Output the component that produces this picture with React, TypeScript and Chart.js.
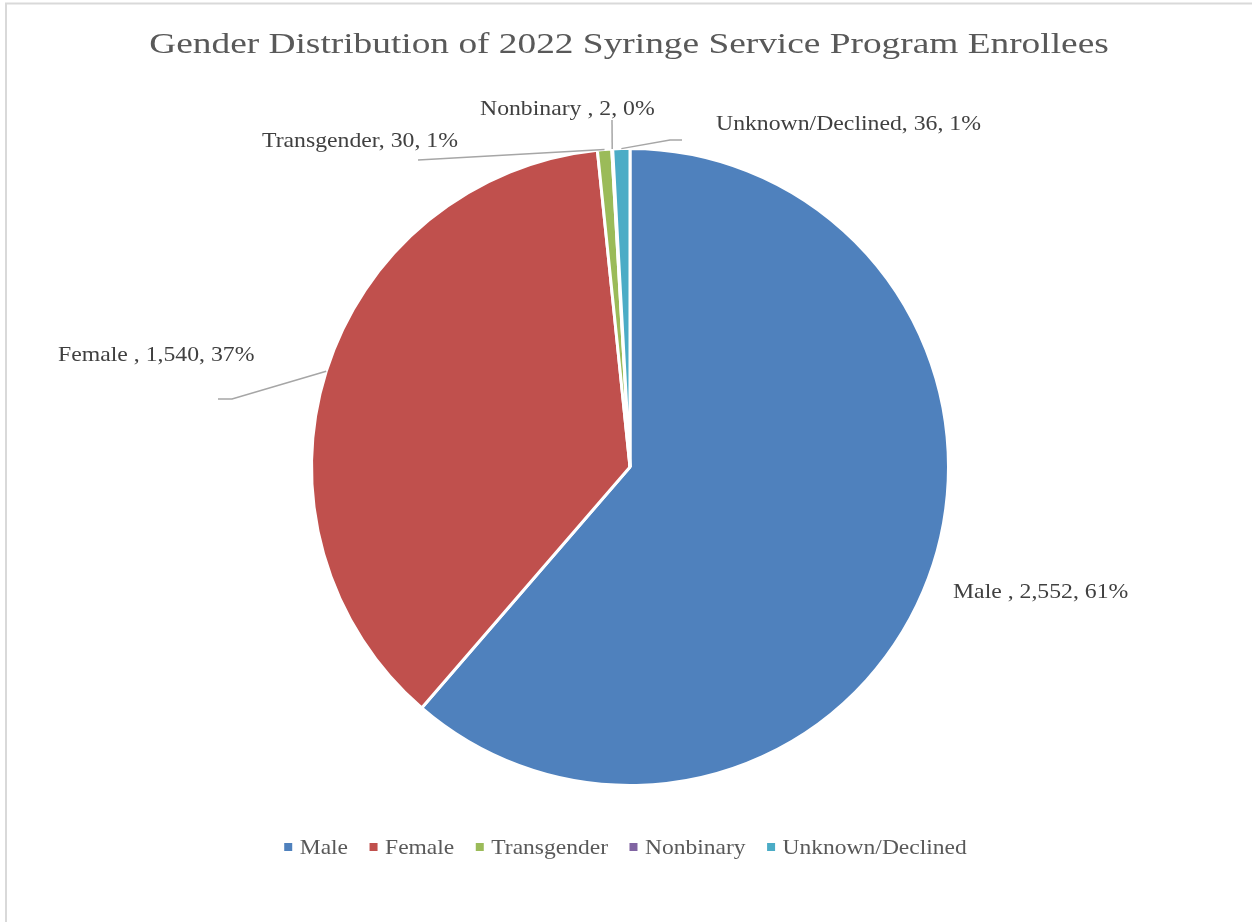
import React, { useEffect, useRef } from 'react';
import { Chart, registerables } from 'chart.js';

Chart.register(...registerables);

// ---- data ----
const categories: string[] = ['Male ', 'Female ', 'Transgender', 'Nonbinary ', 'Unknown/Declined'];
const enrollees: number[] = [2552, 1540, 30, 2, 36];
const sliceColors: string[] = ['#4F81BD', '#C0504D', '#9BBB59', '#8064A2', '#4BACC6'];
const chartTitle = 'Gender Distribution of 2022 Syringe Service Program Enrollees';

// ---- label layout (text left x, baseline y, leader elbow points) ----
const labelLayout: { x: number; y: number; leader: number[][] }[] = [
  { x: 953, y: 598, leader: [] },
  { x: 58, y: 361, leader: [[232, 399], [218, 399]] },
  { x: 262, y: 147, leader: [[418, 160]] },
  { x: 480, y: 115, leader: [[612, 120]] },
  { x: 716, y: 130, leader: [[670, 140], [682, 140]] },
];

const FONT_FAMILY = '"Liberation Serif", "Times New Roman", serif';

function drawScaledText(
  ctx: CanvasRenderingContext2D,
  text: string,
  x: number,
  y: number,
  size: number,
  sx: number,
  color: string,
  align: 'left' | 'center' = 'left'
): number {
  ctx.save();
  ctx.font = `${size}px ${FONT_FAMILY}`;
  const w = ctx.measureText(text).width * sx;
  const left = align === 'center' ? x - w / 2 : x;
  ctx.translate(left, y);
  ctx.scale(sx, 1);
  ctx.fillStyle = color;
  ctx.textAlign = 'left';
  ctx.textBaseline = 'alphabetic';
  ctx.fillText(text, 0, 0);
  ctx.restore();
  return w;
}

function measureScaled(ctx: CanvasRenderingContext2D, text: string, size: number, sx: number): number {
  ctx.save();
  ctx.font = `${size}px ${FONT_FAMILY}`;
  const w = ctx.measureText(text).width * sx;
  ctx.restore();
  return w;
}

const overlayPlugin = {
  id: 'excelOverlay',
  beforeDraw(chart: any) {
    const ctx: CanvasRenderingContext2D = chart.ctx;
    ctx.save();
    ctx.fillStyle = '#FFFFFF';
    ctx.fillRect(0, 0, chart.width, chart.height);
    ctx.strokeStyle = '#D9D9D9';
    ctx.lineWidth = 2;
    ctx.strokeRect(6, 3.5, chart.width + 20, chart.height + 20);
    ctx.restore();
  },
  afterDatasetsDraw(chart: any) {
    const ctx: CanvasRenderingContext2D = chart.ctx;
    const meta = chart.getDatasetMeta(0);
    const total = enrollees.reduce((a, b) => a + b, 0);

    // leader lines
    ctx.save();
    ctx.strokeStyle = '#A6A6A6';
    ctx.lineWidth = 1.5;
    meta.data.forEach((arc: any, i: number) => {
      const pts = labelLayout[i].leader;
      if (!pts.length) return;
      const mid = (arc.startAngle + arc.endAngle) / 2;
      const sx = arc.x + Math.cos(mid) * arc.outerRadius;
      const sy = arc.y + Math.sin(mid) * arc.outerRadius;
      ctx.beginPath();
      ctx.moveTo(sx, sy);
      pts.forEach((p) => ctx.lineTo(p[0], p[1]));
      ctx.stroke();
    });
    ctx.restore();

    // data labels
    enrollees.forEach((v, i) => {
      const pct = Math.round((v / total) * 100);
      const text = `${categories[i]}, ${v.toLocaleString('en-US')}, ${pct}%`;
      drawScaledText(ctx, text, labelLayout[i].x, labelLayout[i].y, 21, 1.13, '#404040');
    });

    // title
    drawScaledText(ctx, chartTitle, 629, 53, 30, 1.245, '#595959', 'center');

    // legend
    const legSize = 21;
    const legSx = 1.12;
    const box = 8;
    const boxGap = 7.5;
    const itemGap = 21.5;
    const names = categories.map((c) => c.trim());
    const widths = names.map((n) => measureScaled(ctx, n, legSize, legSx));
    const totalW =
      widths.reduce((a, b) => a + b, 0) + names.length * (box + boxGap) + (names.length - 1) * itemGap;
    let x = 625.5 - totalW / 2;
    names.forEach((n, i) => {
      ctx.save();
      ctx.fillStyle = sliceColors[i];
      ctx.fillRect(x, 843, box, box);
      ctx.restore();
      x += box + boxGap;
      drawScaledText(ctx, n, x, 854, legSize, legSx, '#595959');
      x += widths[i] + itemGap;
    });
  },
};

export default function App() {
  const canvasRef = useRef<HTMLCanvasElement>(null);

  useEffect(() => {
    document.body.style.margin = '0';
    document.body.style.overflow = 'hidden';
    const canvas = canvasRef.current;
    if (!canvas) return;
    const chart = new Chart(canvas, {
      type: 'pie',
      data: {
        labels: categories.map((c) => c.trim()),
        datasets: [
          {
            data: enrollees,
            backgroundColor: sliceColors,
            borderColor: '#FFFFFF',
            borderWidth: 3,
            hoverOffset: 0,
          },
        ],
      },
      options: {
        responsive: false,
        animation: false,
        devicePixelRatio: 1,
        layout: { padding: { left: 310, right: 302, top: 147, bottom: 135 } },
        plugins: {
          legend: { display: false },
          title: { display: false },
          tooltip: { enabled: false },
        },
        events: [],
      },
      plugins: [overlayPlugin],
    });
    return () => chart.destroy();
  }, []);

  return (
    <div style={{ width: 1252, height: 922 }}>
      <canvas ref={canvasRef} width={1252} height={922} style={{ display: 'block' }} />
    </div>
  );
}
